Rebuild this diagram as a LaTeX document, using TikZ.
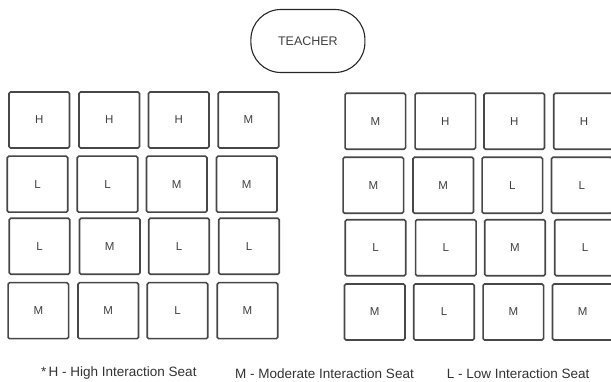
\documentclass[tikz,border=0pt]{standalone}
\usepackage{fontspec}
\setmainfont{Liberation Sans}
\begin{document}
\begin{tikzpicture}[x=1pt,y=-1pt,
  seat/.style={draw=black!72, line width=1.6pt, rounded corners=1.5pt, fill=white,
    minimum width=60.5pt, minimum height=56pt, inner sep=0pt,
    font=\fontsize{11.5}{13}\selectfont, text=black!75},
  teacher/.style={draw=black!85, line width=1.1pt, rounded corners=30pt,
    minimum width=114pt, minimum height=63pt, inner sep=0pt,
    font=\fontsize{12.5}{14}\selectfont, text=black!75},
  legend/.style={anchor=west, inner sep=0pt, font=\fontsize{13.5}{15}\selectfont, text=black!80}]
\useasboundingbox (0,0) rectangle (611,382);
\node[teacher] (t) at (307.9,41) {TEACHER};
% left block
\node[seat] (a11) at (39.2,120) {H};
\node[seat] (a12) at (109.2,120) {H};
\node[seat] (a13) at (178.7,120) {H};
\node[seat] (a14) at (248.5,120) {M};
\node[seat] (a21) at (37.5,184.2) {L};
\node[seat] (a22) at (107.5,184.2) {L};
\node[seat] (a23) at (176.7,184.2) {M};
\node[seat] (a24) at (246.7,184.2) {M};
\node[seat] (a31) at (39.5,246.3) {L};
\node[seat] (a32) at (109.7,246.3) {M};
\node[seat] (a33) at (179,246.3) {L};
\node[seat] (a34) at (249,246.3) {L};
\node[seat] (a41) at (38.3,310.7) {M};
\node[seat] (a42) at (108.2,310.7) {M};
\node[seat] (a43) at (177.5,310.7) {L};
\node[seat] (a44) at (247.5,310.7) {M};
% right block
\node[seat] (b11) at (375.3,121.3) {M};
\node[seat] (b12) at (445.3,121.3) {H};
\node[seat] (b13) at (514.2,121.3) {H};
\node[seat] (b14) at (584,121.3) {H};
\node[seat] (b21) at (373.3,185.3) {M};
\node[seat] (b22) at (443.2,185.3) {M};
\node[seat] (b23) at (512.3,185.3) {L};
\node[seat] (b24) at (581.7,185.3) {L};
\node[seat] (b31) at (375.5,247.8) {L};
\node[seat] (b32) at (445.8,247.8) {L};
\node[seat] (b33) at (515,247.8) {M};
\node[seat] (b34) at (585,247.8) {L};
\node[seat] (b41) at (374.7,312) {M};
\node[seat] (b42) at (444,312) {L};
\node[seat] (b43) at (513.3,312) {M};
\node[seat] (b44) at (582.7,312) {M};
% legend
\node[legend] (l1) at (41,373.5) {*\,H - High Interaction Seat};
\node[legend] (l2) at (235,373.5) {M - Moderate Interaction Seat};
\node[legend] (l3) at (446.7,373.5) {L - Low Interaction Seat};
\end{tikzpicture}
\end{document}
